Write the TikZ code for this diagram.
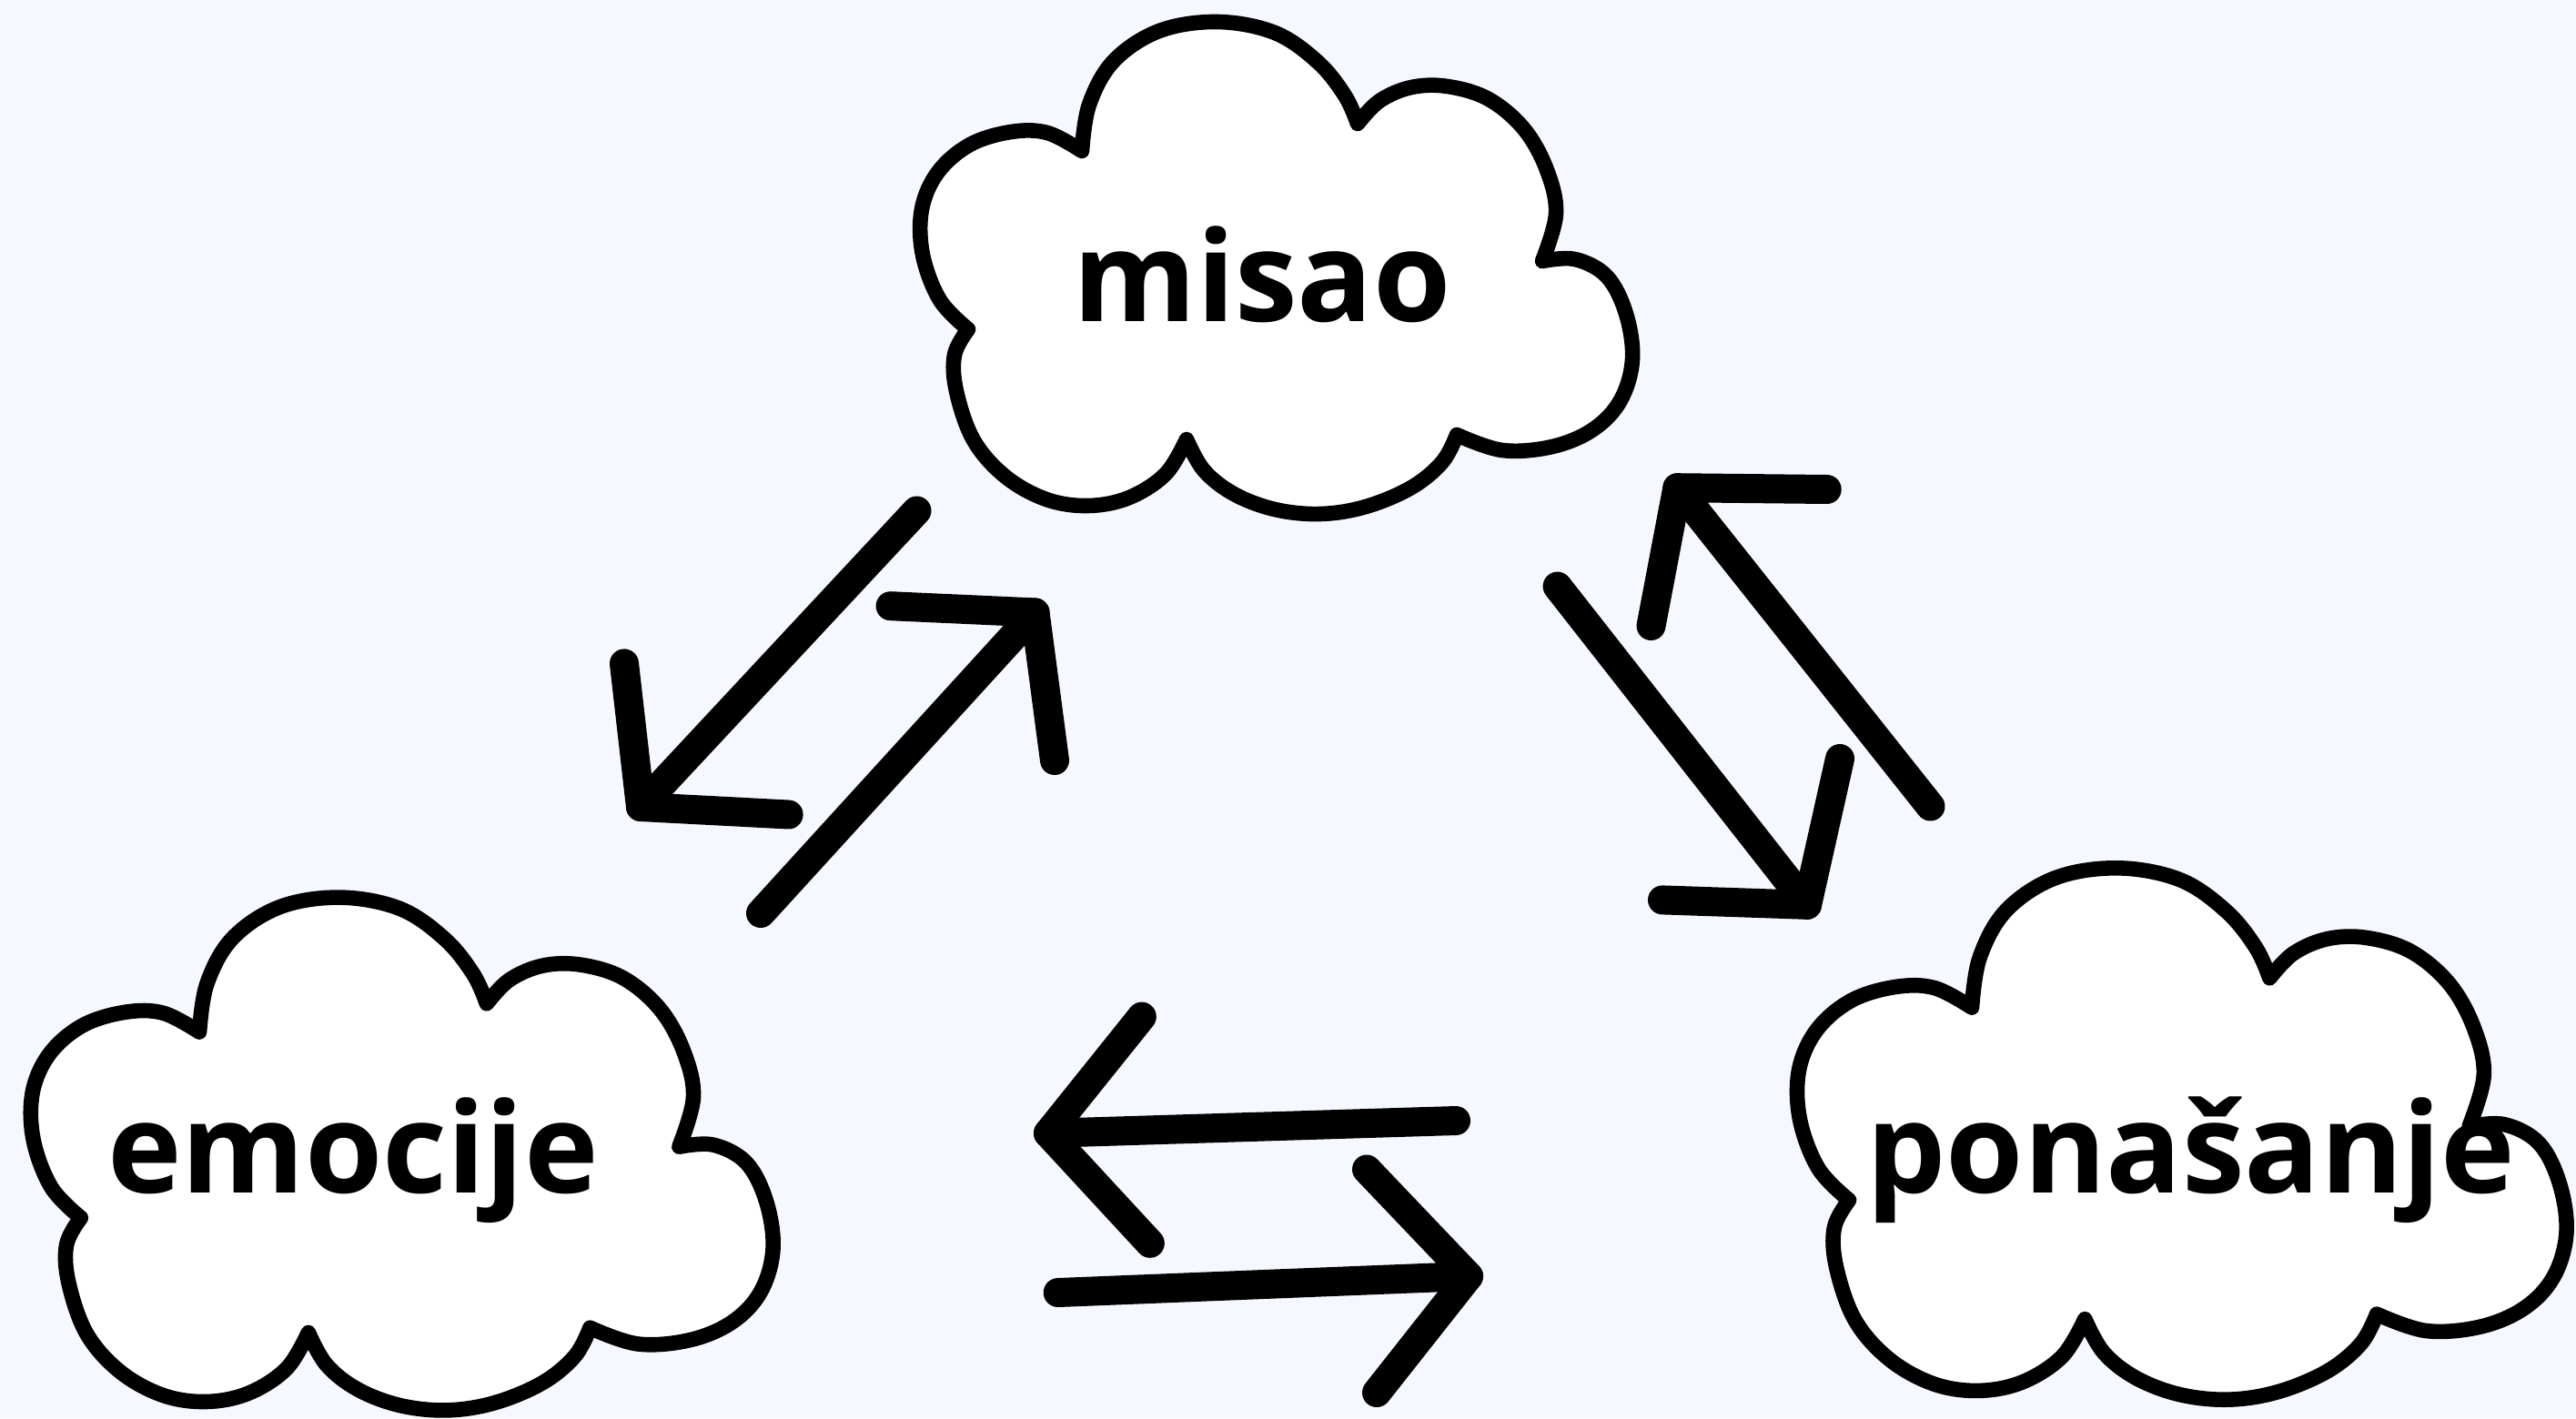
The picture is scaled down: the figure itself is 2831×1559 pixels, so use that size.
\documentclass[tikz,border=0pt]{standalone}
\usepackage{fontspec}
\setmainfont{Open Sans}
\definecolor{bgcol}{RGB}{245,249,255}
\tikzset{
  cloudline/.style={draw=black, fill=white, line width=8.3pt, line join=round},
  arr/.style={draw=black, line width=16pt, line cap=round, line join=round},
  lbl/.style={font=\bfseries\fontsize{69pt}{78pt}\selectfont, inner sep=0pt, anchor=base},
  cloudpic/.pic={
    \path[cloudline]
      plot[smooth, tension=0.6] coordinates {(-212,-129) (-204,-180) (-177,-228) (-127,-261) (-63,-271) (0,-259) (47,-227) (77,-190) (91,-159)}
      -- plot[smooth, tension=0.6] coordinates {(91,-159) (115,-184) (150,-199) (190,-200) (235,-186) (274,-153) (299,-108) (309,-60) (294,-8)}
      -- plot[smooth, tension=0.6] coordinates {(294,-8) (330,-10) (365,9) (386,50) (393,100) (380,145) (350,177) (305,196) (250,200) (200,183)}
      -- plot[smooth, tension=0.6] coordinates {(200,183) (184,213) (150,241) (100,262) (50,270) (0,265) (-45,248) (-78,222) (-97,188)}
      -- plot[smooth, tension=0.6] coordinates {(-97,188) (-120,226) (-160,252) (-205,261) (-251,254) (-296,229) (-331,189) (-350,135) (-352,95) (-337,67)}
      -- plot[smooth, tension=0.6] coordinates {(-337,67) (-368,35) (-387,-15) (-388,-65) (-370,-106) (-335,-136) (-290,-150) (-250,-149) (-212,-129)}
      -- cycle;
  }
}
\begin{document}
\begin{tikzpicture}[x=0.5pt, y=-0.5pt]
\fill[bgcol] (0,0) rectangle (2831,1559);
\useasboundingbox (0,0) rectangle (2831,1559);

% clouds
\pic at (1401,295) {cloudpic};
\pic[scale=1.042] at (440,1269) {cloudpic};
\pic[scale=1.08] at (2396,1247) {cloudpic};

% labels
\node[lbl] (misao) at (1387,353) {misao};
\node[lbl] (emocije) at (388,1311) {emocije};
\node[lbl] (ponasanje) at (2408,1311) {ponašanje};

% arrow points
\coordinate (as) at (1007.5,561.5); \coordinate (at) at (704,887);
\coordinate (ap) at (686,729.4);    \coordinate (aq) at (866.6,895.5);
\coordinate (bs) at (836,1004);     \coordinate (bt) at (1137.5,673.4);
\coordinate (bp) at (978.6,666.2);  \coordinate (bq) at (1159,836);
\coordinate (cs) at (1711.6,644.6); \coordinate (ct) at (1986,994.8);
\coordinate (cp) at (2022,834);     \coordinate (cq) at (1827,989.4);
\coordinate (ds) at (2121.5,886.5); \coordinate (dt) at (1843.4,536.2);
\coordinate (dp) at (1814.5,688);   \coordinate (dq) at (2007.7,538);
\coordinate (es) at (1600,1232);    \coordinate (et) at (1152,1245.8);
\coordinate (ep) at (1254.8,1117.6);\coordinate (eq) at (1263.8,1366.8);
\coordinate (fs) at (1162.7,1421);  \coordinate (ft) at (1614,1403);
\coordinate (fp) at (1502,1285.5);  \coordinate (fq) at (1513,1531);

\foreach \n in {a,b,c,d,e,f}{
  \draw[arr] (\n s) -- (\n t);
  \draw[arr] (\n p) -- (\n t) -- (\n q);
}
\end{tikzpicture}
\end{document}
